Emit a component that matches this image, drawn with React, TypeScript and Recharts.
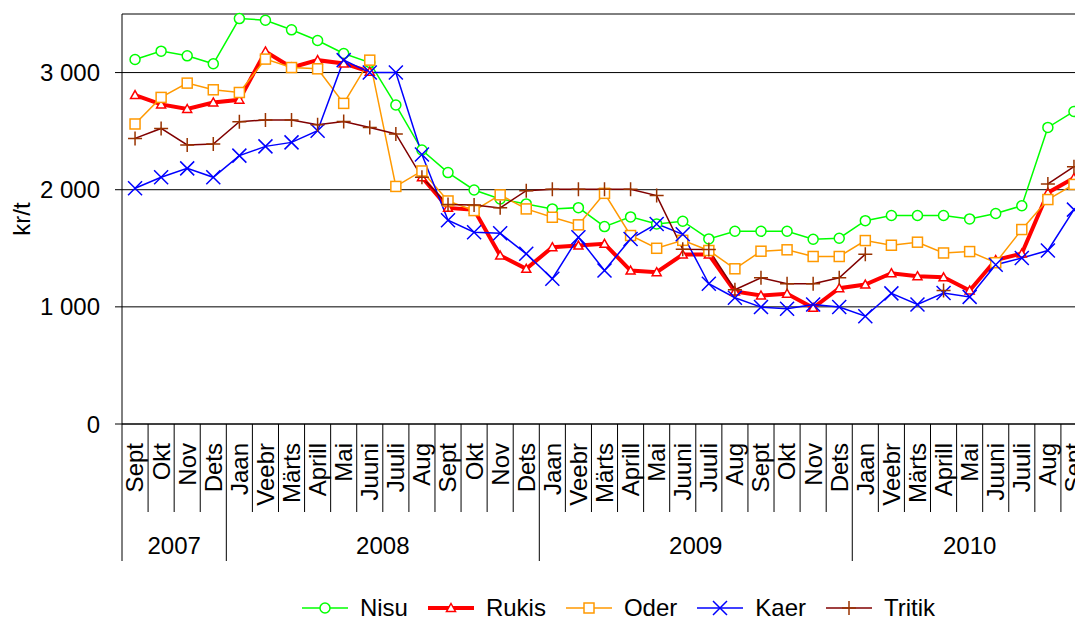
import React from "react";
import { LineChart, Line, XAxis, YAxis, CartesianGrid, Legend } from "recharts";

// months Sept 2007 .. Sept 2010
const months = [
  "Sept", "Okt", "Nov", "Dets",
  "Jaan", "Veebr", "Märts", "Aprill", "Mai", "Juuni", "Juuli", "Aug", "Sept", "Okt", "Nov", "Dets",
  "Jaan", "Veebr", "Märts", "Aprill", "Mai", "Juuni", "Juuli", "Aug", "Sept", "Okt", "Nov", "Dets",
  "Jaan", "Veebr", "Märts", "Aprill", "Mai", "Juuni", "Juuli", "Aug", "Sept",
];
const years = ["2007", "2008", "2009", "2010"];
const yTicks = [0, 1000, 2000, 3000];

const nisu = [
  3112, 3183, 3143, 3075, 3461, 3447, 3365, 3274, 3163, 3086, 2723, 2339, 2146, 1998, 1921, 1879,
  1836, 1847, 1685, 1768, 1708, 1731, 1580, 1645, 1645, 1645, 1577, 1586, 1736, 1780, 1780, 1780,
  1751, 1797, 1863, 2532, 2668,
];
const rukis = [
  2808, 2728, 2689, 2745, 2768, 3180, 3043, 3106, 3078, 3007, null, 2106, 1845, 1828, 1438, 1325,
  1509, 1523, 1538, 1310, 1296, 1447, 1447, 1131, 1097, 1112, 992, 1159, 1190, 1287, 1262, 1252,
  1140, 1400, 1455, 1975, 2100,
];
const oder = [
  2561, 2788, 2910, 2853, 2830, 3115, 3043, 3032, 2737, 3106, 2028, 2160, 1904, 1822, 1956, 1836,
  1765, 1700, 1969, 1609, 1500, 1568, 1481, 1325, 1475, 1487, 1430, 1430, 1566, 1526, 1552, 1460,
  1472, 1377, 1660, 1916, 2045,
];
const kaer = [
  2012, 2106, 2182, 2106, 2291, 2370, 2404, 2504, 3106, 3000, 3000, 2300, 1739, 1637, 1628, 1453,
  1240, 1594, 1310, 1580, 1708, 1620, 1197, 1078, 998, 984, 1020, 998, 920, 1115, 1020, 1118,
  1085, 1360, 1417, 1481, 1830,
];
const tritik = [
  2438, 2523, 2382, 2390, 2581, 2595, 2595, 2555, 2583, 2532, 2476, 2106, 1873, 1870, 1845, 1992,
  2003, 2003, 2003, 2003, 1950, 1492, 1489, 1146, 1248, 1197, 1197, 1248, 1450, null, null, 1140,
  null, null, null, 2049, 2197,
];

const FONT = "'Liberation Sans', Arial, sans-serif";
const CHART_W = 1090;
const CHART_H = 619;
const MARGIN = { top: 14, right: 3, left: 0, bottom: 0 };
const Y_AXIS_W = 122;
const X_AXIS_H = 140;
const LEGEND_H = 55;

const series = [
  { key: "Nisu", color: "#00ff00", width: 1.5, shape: "circle" },
  { key: "Rukis", color: "#ff0000", width: 4, shape: "triangle" },
  { key: "Oder", color: "#ff9900", width: 1.5, shape: "square" },
  { key: "Kaer", color: "#0000ff", width: 1.5, shape: "cross" },
  { key: "Tritik", color: "#800000", width: 1.5, shape: "plus" },
];

const chartData = months.map((m, i) => ({
  month: m,
  Nisu: nisu[i],
  Rukis: rukis[i],
  Oder: oder[i],
  Kaer: kaer[i],
  Tritik: tritik[i],
}));

const band = (CHART_W - MARGIN.left - MARGIN.right - Y_AXIS_W) / months.length;
// first index of each year group
const groupStarts = months
  .map((m, i) => (i === 0 || m === "Jaan" ? i : -1))
  .filter((i) => i >= 0);

const Marker = ({ shape, color, cx, cy }: any) => {
  if (shape === "circle")
    return <circle cx={cx} cy={cy} r={5} fill="#fff" stroke={color} strokeWidth={1.5} />;
  if (shape === "triangle")
    return (
      <path
        d={`M${cx},${cy - 4.5}L${cx + 4.5},${cy + 3.5}L${cx - 4.5},${cy + 3.5}Z`}
        fill="#fff"
        stroke={color}
        strokeWidth={1.5}
      />
    );
  if (shape === "square")
    return (
      <rect x={cx - 5} y={cy - 5} width={10} height={10} fill="#fff" stroke={color} strokeWidth={1.5} />
    );
  if (shape === "cross")
    return (
      <path
        d={`M${cx - 7},${cy - 7}L${cx + 7},${cy + 7}M${cx - 7},${cy + 7}L${cx + 7},${cy - 7}`}
        stroke={color}
        strokeWidth={1.5}
      />
    );
  return (
    <path
      d={`M${cx - 7},${cy}L${cx + 7},${cy}M${cx},${cy - 7}L${cx},${cy + 7}`}
      stroke="#993300"
      strokeWidth={1.5}
    />
  );
};

const makeDot = (shape: string, color: string) => (p: any) => {
  if (p.cy == null || p.value == null || Number.isNaN(p.cy)) return <g key={p.key} />;
  return (
    <g key={p.key}>
      <Marker shape={shape} color={color} cx={p.cx} cy={p.cy} />
    </g>
  );
};

const MonthTick = (props: any) => {
  const { x, y, payload } = props;
  const i = props.index ?? payload.index;
  const left = x - band / 2;
  const g = groupStarts.indexOf(i);
  let yearLabel = null;
  if (g >= 0) {
    const end = g + 1 < groupStarts.length ? groupStarts[g + 1] : months.length;
    yearLabel = (
      <text
        x={left + ((end - i) * band) / 2}
        y={y + 122}
        textAnchor="middle"
        dy="0.35em"
        fontSize={24}
        fontFamily={FONT}
        fill="#000"
      >
        {years[g]}
      </text>
    );
  }
  return (
    <g>
      <line x1={left} y1={y} x2={left} y2={y + (g >= 0 ? 137 : 88)} stroke="#000" />
      <text
        transform={`translate(${x},${y + 19}) rotate(-90)`}
        textAnchor="end"
        dy="0.35em"
        fontSize={24}
        fontFamily={FONT}
        fill="#000"
      >
        {payload.value}
      </text>
      {yearLabel}
    </g>
  );
};

const YLabel = (props: any) => {
  const vb = props.viewBox;
  const cy = vb.y + vb.height / 2;
  return (
    <text
      transform={`translate(${vb.x + 22},${cy}) rotate(-90)`}
      textAnchor="middle"
      dy="0.35em"
      fontSize={24}
      fontFamily={FONT}
      fill="#000"
    >
      kr/t
    </text>
  );
};

const fmt = (v: number) => String(v).replace(/\B(?=(\d{3})+(?!\d))/g, " ");

const renderLegend = () => (
  <div
    style={{
      display: "flex",
      justifyContent: "center",
      alignItems: "center",
      height: LEGEND_H,
      paddingTop: 32,
      paddingLeft: 170,
      boxSizing: "border-box",
      fontFamily: FONT,
      fontSize: 24,
      color: "#000",
    }}
  >
    {series.map((s) => (
      <div key={s.key} style={{ display: "flex", alignItems: "center", marginRight: 20 }}>
        <svg width={46} height={20}>
          <line x1={0} y1={10} x2={46} y2={10} stroke={s.color} strokeWidth={s.width} />
          <Marker shape={s.shape} color={s.color} cx={23} cy={10} />
        </svg>
        <span style={{ marginLeft: 12, lineHeight: "24px" }}>{s.key}</span>
      </div>
    ))}
  </div>
);

export default function App() {
  return (
    <div
      style={{
        position: "absolute",
        left: 0,
        top: 0,
        width: 1075,
        height: CHART_H,
        overflow: "hidden",
        background: "#fff",
        fontFamily: FONT,
      }}
    >
      <LineChart width={CHART_W} height={CHART_H} data={chartData} margin={MARGIN}>
        <CartesianGrid vertical={false} stroke="#000" />
        <XAxis
          dataKey="month"
          interval={0}
          height={X_AXIS_H}
          padding={{ left: band / 2, right: band / 2 }}
          tickLine={false}
          tickSize={0}
          tickMargin={0}
          axisLine={{ stroke: "#000" }}
          tick={<MonthTick />}
        />
        <YAxis
          width={Y_AXIS_W}
          domain={[0, 3500]}
          ticks={yTicks}
          tickFormatter={fmt}
          tickSize={7}
          tickMargin={15}
          axisLine={{ stroke: "#000" }}
          tickLine={{ stroke: "#000" }}
          tick={{ fill: "#000", fontSize: 24, fontFamily: FONT }}
          label={{ content: YLabel }}
        />
        <Legend verticalAlign="bottom" height={LEGEND_H} content={renderLegend} />
        {series.map((s) => (
          <Line
            key={s.key}
            type="linear"
            dataKey={s.key}
            stroke={s.color}
            strokeWidth={s.width}
            dot={makeDot(s.shape, s.color)}
            activeDot={false}
            isAnimationActive={false}
            legendType="none"
          />
        ))}
      </LineChart>
    </div>
  );
}
